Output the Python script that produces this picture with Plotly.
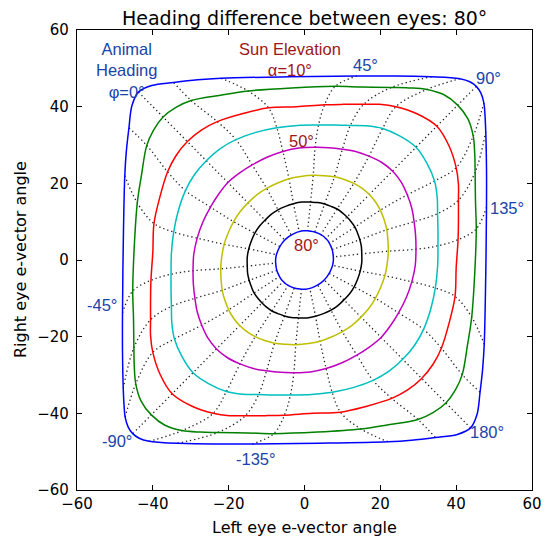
import plotly.graph_objects as go

# Sun elevations (deg) of the iso-elevation loops
ELEVATIONS = [10, 20, 30, 40, 50, 60, 70, 80]
# Sun headings (deg) sampled along every loop; the dotted lines are drawn every 15 deg
HEADINGS = [-172.5, -165, -157.5, -150, -142.5, -135, -127.5, -120, -112.5, -105, -97.5, -90,
            -82.5, -75, -67.5, -60, -52.5, -45, -37.5, -30, -22.5, -15, -7.5, 0,
            7.5, 15, 22.5, 30, 37.5, 45, 52.5, 60, 67.5, 75, 82.5, 90,
            97.5, 105, 112.5, 120, 127.5, 135, 142.5, 150, 157.5, 165, 172.5, 180]

# Left-eye (x) and right-eye (y) e-vector angles (deg), one value per heading
left_10 = [40.3, 34.5, 28.2, 22.0, 4.0, -13.8, -24.0, -33.5, -37.8, -41.0, -43.6,
           -45.3, -46.5, -47.3, -47.6, -47.8, -48.0, -48.0, -47.8, -47.4, -47.0, -46.3, -45.5,
           -43.8, -40.3, -34.5, -28.2, -22.0, -4.0, 13.8, 24.0, 33.5, 37.8, 41.0, 43.6, 45.3,
           46.5, 47.3, 47.6, 47.8, 48.0, 48.0, 47.8, 47.4, 47.0, 46.3, 45.5, 43.8]
right_10 = [-45.5, -46.3, -47.0, -47.4, -47.8, -48.0, -48.0, -47.8, -47.6, -47.3, -46.5,
            -45.3, -43.6, -41.0, -37.8, -33.5, -24.0, -13.8, 4.0, 22.0, 28.2, 34.5, 40.3,
            43.8, 45.5, 46.3, 47.0, 47.4, 47.8, 48.0, 48.0, 47.8, 47.6, 47.3, 46.5, 45.3,
            43.6, 41.0, 37.8, 33.5, 24.0, 13.8, -4.0, -22.0, -28.2, -34.5, -40.3, -43.8]

left_20 = [33.9, 29.9, 22.1, 14.9, 3.4, -8.1, -15.1, -22.9, -27.5, -32.3, -36.8,
           -40.4, -43.1, -44.5, -44.9, -45.0, -45.1, -45.3, -44.9, -44.1, -43.0, -41.6, -39.8,
           -37.3, -33.9, -29.9, -22.1, -14.9, -3.4, 8.1, 15.1, 22.9, 27.5, 32.3, 36.8, 40.4,
           43.1, 44.5, 44.9, 45.0, 45.1, 45.3, 44.9, 44.1, 43.0, 41.6, 39.8, 37.3]
right_20 = [-39.8, -41.6, -43.0, -44.1, -44.9, -45.3, -45.1, -45.0, -44.9, -44.5, -43.1,
            -40.4, -36.8, -32.3, -27.5, -22.9, -15.1, -8.1, 3.4, 14.9, 22.1, 29.9, 33.9,
            37.3, 39.8, 41.6, 43.0, 44.1, 44.9, 45.3, 45.1, 45.0, 44.9, 44.5, 43.1, 40.4,
            36.8, 32.3, 27.5, 22.9, 15.1, 8.1, -3.4, -14.9, -22.1, -29.9, -33.9, -37.3]

left_30 = [27.2, 23.0, 16.2, 9.5, 2.1, -5.3, -10.3, -15.6, -19.8, -24.1, -29.8,
           -34.9, -38.1, -40.0, -40.6, -40.6, -40.6, -40.5, -40.0, -39.7, -38.2, -36.1, -33.9,
           -30.9, -27.2, -23.0, -16.2, -9.5, -2.1, 5.3, 10.3, 15.6, 19.8, 24.1, 29.8, 34.9,
           38.1, 40.0, 40.6, 40.6, 40.6, 40.5, 40.0, 39.7, 38.2, 36.1, 33.9, 30.9]
right_30 = [-33.9, -36.1, -38.2, -39.7, -40.0, -40.5, -40.6, -40.6, -40.6, -40.0, -38.1,
            -34.9, -29.8, -24.1, -19.8, -15.6, -10.3, -5.3, 2.1, 9.5, 16.2, 23.0, 27.2,
            30.9, 33.9, 36.1, 38.2, 39.7, 40.0, 40.5, 40.6, 40.6, 40.6, 40.0, 38.1, 34.9,
            29.8, 24.1, 19.8, 15.6, 10.3, 5.3, -2.1, -9.5, -16.2, -23.0, -27.2, -30.9]

left_40 = [22.3, 18.1, 12.8, 7.3, 1.8, -3.7, -7.8, -12.1, -16.3, -20.6, -25.2,
           -29.4, -32.3, -34.3, -35.0, -35.1, -35.2, -35.2, -35.1, -34.5, -33.3, -31.4, -29.0,
           -25.9, -22.3, -18.1, -12.8, -7.3, -1.8, 3.7, 7.8, 12.1, 16.3, 20.6, 25.2, 29.4,
           32.3, 34.3, 35.0, 35.1, 35.2, 35.2, 35.1, 34.5, 33.3, 31.4, 29.0, 25.9]
right_40 = [-29.0, -31.4, -33.3, -34.5, -35.1, -35.2, -35.2, -35.1, -35.0, -34.3, -32.3,
            -29.4, -25.2, -20.6, -16.3, -12.1, -7.8, -3.7, 1.8, 7.3, 12.8, 18.1, 22.3,
            25.9, 29.0, 31.4, 33.3, 34.5, 35.1, 35.2, 35.2, 35.1, 35.0, 34.3, 32.3, 29.4,
            25.2, 20.6, 16.3, 12.1, 7.8, 3.7, -1.8, -7.3, -12.8, -18.1, -22.3, -25.9]

left_50 = [17.1, 13.8, 9.9, 5.7, 1.5, -2.8, -6.4, -10.0, -13.5, -17.0, -20.3,
           -23.2, -25.5, -27.1, -28.3, -28.9, -29.3, -29.4, -29.2, -28.3, -26.8, -24.8, -22.7,
           -20.2, -17.1, -13.8, -9.9, -5.7, -1.5, 2.8, 6.4, 10.0, 13.5, 17.0, 20.3, 23.2,
           25.5, 27.1, 28.3, 28.9, 29.3, 29.4, 29.2, 28.3, 26.8, 24.8, 22.7, 20.2]
right_50 = [-22.7, -24.8, -26.8, -28.3, -29.2, -29.4, -29.3, -28.9, -28.3, -27.1, -25.5,
            -23.2, -20.3, -17.0, -13.5, -10.0, -6.4, -2.8, 1.5, 5.7, 9.9, 13.8, 17.1,
            20.2, 22.7, 24.8, 26.8, 28.3, 29.2, 29.4, 29.3, 28.9, 28.3, 27.1, 25.5, 23.2,
            20.3, 17.0, 13.5, 10.0, 6.4, 2.8, -1.5, -5.7, -9.9, -13.8, -17.1, -20.2]

left_60 = [12.6, 10.0, 7.1, 4.1, 1.0, -2.3, -5.1, -7.9, -10.5, -13.0, -15.2,
           -17.1, -18.7, -20.0, -21.0, -21.7, -22.0, -22.1, -21.8, -21.2, -20.1, -18.7, -17.0,
           -14.9, -12.6, -10.0, -7.1, -4.1, -1.0, 2.3, 5.1, 7.9, 10.5, 13.0, 15.2, 17.1,
           18.7, 20.0, 21.0, 21.7, 22.0, 22.1, 21.8, 21.2, 20.1, 18.7, 17.0, 14.9]
right_60 = [-17.0, -18.7, -20.1, -21.2, -21.8, -22.1, -22.0, -21.7, -21.0, -20.0, -18.7,
            -17.1, -15.2, -13.0, -10.5, -7.9, -5.1, -2.3, 1.0, 4.1, 7.1, 10.0, 12.6,
            14.9, 17.0, 18.7, 20.1, 21.2, 21.8, 22.1, 22.0, 21.7, 21.0, 20.0, 18.7, 17.1,
            15.2, 13.0, 10.5, 7.9, 5.1, 2.3, -1.0, -4.1, -7.1, -10.0, -12.6, -14.9]

left_70 = [8.8, 7.0, 5.0, 2.9, 0.7, -1.6, -3.5, -5.3, -7.0, -8.6, -10.0,
           -11.2, -12.3, -13.3, -14.0, -14.6, -15.0, -15.1, -15.1, -14.7, -14.0, -13.1, -11.9,
           -10.4, -8.8, -7.0, -5.0, -2.9, -0.7, 1.6, 3.5, 5.3, 7.0, 8.6, 10.0, 11.2,
           12.3, 13.3, 14.0, 14.6, 15.0, 15.1, 15.1, 14.7, 14.0, 13.1, 11.9, 10.4]
right_70 = [-11.9, -13.1, -14.0, -14.7, -15.1, -15.1, -15.0, -14.6, -14.0, -13.3, -12.3,
            -11.2, -10.0, -8.6, -7.0, -5.3, -3.5, -1.6, 0.7, 2.9, 5.0, 7.0, 8.8,
            10.4, 11.9, 13.1, 14.0, 14.7, 15.1, 15.1, 15.0, 14.6, 14.0, 13.3, 12.3, 11.2,
            10.0, 8.6, 7.0, 5.3, 3.5, 1.6, -0.7, -2.9, -5.0, -7.0, -8.8, -10.4]

left_80 = [4.4, 3.5, 2.5, 1.4, 0.3, -0.8, -1.7, -2.7, -3.5, -4.3, -5.0,
           -5.6, -6.2, -6.6, -7.0, -7.3, -7.5, -7.6, -7.6, -7.4, -7.0, -6.5, -5.9,
           -5.2, -4.4, -3.5, -2.5, -1.4, -0.3, 0.8, 1.7, 2.7, 3.5, 4.3, 5.0, 5.6,
           6.2, 6.6, 7.0, 7.3, 7.5, 7.6, 7.6, 7.4, 7.0, 6.5, 5.9, 5.2]
right_80 = [-5.9, -6.5, -7.0, -7.4, -7.6, -7.6, -7.5, -7.3, -7.0, -6.6, -6.2,
            -5.6, -5.0, -4.3, -3.5, -2.7, -1.7, -0.8, 0.3, 1.4, 2.5, 3.5, 4.4,
            5.2, 5.9, 6.5, 7.0, 7.4, 7.6, 7.6, 7.5, 7.3, 7.0, 6.6, 6.2, 5.6,
            5.0, 4.3, 3.5, 2.7, 1.7, 0.8, -0.3, -1.4, -2.5, -3.5, -4.4, -5.2]

LEFT = [left_10, left_20, left_30, left_40, left_50, left_60, left_70, left_80]
RIGHT = [right_10, right_20, right_30, right_40, right_50, right_60, right_70, right_80]
LOOP_COLORS = ["#0000ff", "#008000", "#ff0000", "#00bfbf",
               "#bf00bf", "#bfbf00", "#000000", "#0000ff"]

HEAD_BLUE = "#1a44a8"
SUN_RED = "#9e1616"
FONT = "DejaVu Sans, sans-serif"
LABEL_FONT = "Liberation Sans, Arial, sans-serif"

fig = go.Figure()

# dotted iso-heading lines (every 15 deg), from the lowest to the highest sun elevation
for j, phi in enumerate(HEADINGS):
    if phi % 15 != 0:
        continue
    fig.add_trace(go.Scatter(
        x=[col[j] for col in LEFT], y=[col[j] for col in RIGHT],
        mode="lines", line=dict(color="#222222", width=1.3, dash="1.3px,2.9px",
                                shape="spline", smoothing=1.0),
        hoverinfo="skip", showlegend=False, name=f"heading {phi}"))

# solid iso-elevation loops, closed on the flat bottom side (heading -135)
start = HEADINGS.index(-135)
order = list(range(start, len(HEADINGS))) + list(range(0, start + 1))
for alpha, xs, ys, col in zip(ELEVATIONS, LEFT, RIGHT, LOOP_COLORS):
    fig.add_trace(go.Scatter(
        x=[xs[i] for i in order], y=[ys[i] for i in order],
        mode="lines", line=dict(color=col, width=1.5, shape="spline", smoothing=1.0),
        hoverinfo="skip", showlegend=False, name=f"elevation {alpha}"))

heading_labels = [
    (-46.9, 49.4, "Animal<br>Heading<br>φ=0°"),
    (16.2, 50.8, "45°"),
    (48.6, 47.5, "90°"),
    (53.5, 13.5, "135°"),
    (48.2, -44.9, "180°"),
    (-12.8, -51.9, "-135°"),
    (-49.5, -47.1, "-90°"),
    (-53.5, -11.8, "-45°"),
]
for x, y, t in heading_labels:
    fig.add_annotation(x=x, y=y, text=t, showarrow=False, xanchor="center", yanchor="middle",
                       font=dict(family=LABEL_FONT, size=16.5, color=HEAD_BLUE))

sun_labels = [
    (-3.7, 52.4, "Sun Elevation<br>α=10°"),
    (-0.9, 31.0, "50°"),
    (0.4, 3.9, "80°"),
]
for x, y, t in sun_labels:
    fig.add_annotation(x=x, y=y, text=t, showarrow=False, xanchor="center", yanchor="middle",
                       font=dict(family=LABEL_FONT, size=16.5, color=SUN_RED))

fig.add_annotation(xref="paper", yref="paper", x=0.5, y=1.0, yshift=12,
                   text="Heading difference between eyes: 80°", showarrow=False,
                   xanchor="center", yanchor="middle",
                   font=dict(family=FONT, size=19, color="black"))
fig.add_annotation(xref="paper", yref="paper", x=0.5, y=0.0, yshift=-37,
                   text="Left eye e-vector angle", showarrow=False,
                   xanchor="center", yanchor="middle",
                   font=dict(family=FONT, size=16, color="black"))
fig.add_annotation(xref="paper", yref="paper", x=0.0, y=0.5, xshift=-57,
                   text="Right eye e-vector angle", showarrow=False, textangle=-90,
                   xanchor="center", yanchor="middle",
                   font=dict(family=FONT, size=16, color="black"))

axis_common = dict(
    range=[-60, 60], tick0=-60, dtick=20, ticks="inside", ticklen=5, tickwidth=1,
    tickcolor="black", showline=True, linecolor="black", linewidth=1.2,
    mirror="allticks", showgrid=False, zeroline=False, automargin=False,
    tickfont=dict(family=FONT, size=15, color="black"),
)
fig.update_layout(
    template="none",
    width=545, height=538,
    margin=dict(l=77, r=13, t=30, b=48, autoexpand=False),
    paper_bgcolor="white", plot_bgcolor="white",
    xaxis=dict(**axis_common),
    yaxis=dict(**axis_common, ticklabelstandoff=4),
    showlegend=False,
)

fig.write_html("out.html")
